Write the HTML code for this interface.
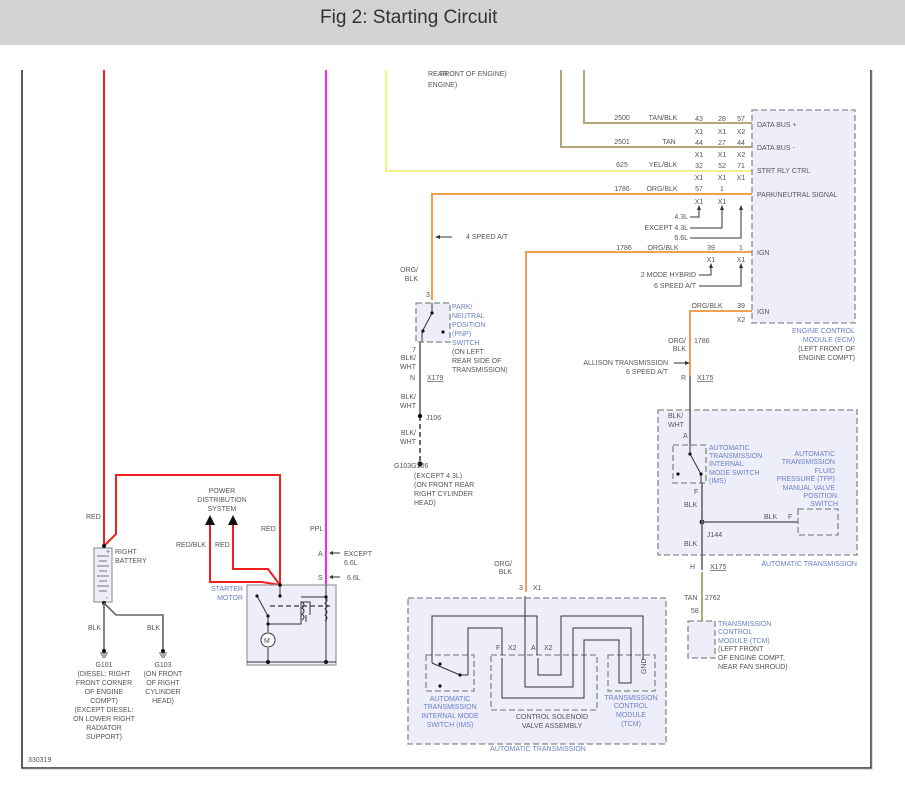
<!DOCTYPE html>
<html><head><meta charset="utf-8"><style>
html,body{margin:0;padding:0;background:#fff;}
svg{display:block;}
text{font-family:"Liberation Sans",sans-serif;font-size:7px;fill:#555;}
.b{fill:#6b7fc4;}
.t{font-size:19px;fill:#333;}
.w{fill:none;stroke:#666;stroke-width:1.6;}
.d{fill:#eeeefb;stroke:#888;stroke-width:1.3;stroke-dasharray:6,3;}
.o{fill:none;stroke:#f0a050;stroke-width:2;}
.tan{fill:none;stroke:#b5a67a;stroke-width:2;}
.r{fill:none;stroke:#f02020;stroke-width:2;}
.k{fill:none;stroke:#333;stroke-width:1;}
</style></head><body>
<svg width="905" height="803" viewBox="0 0 905 803" xmlns="http://www.w3.org/2000/svg">
<rect x="0" y="0" width="905" height="45" fill="#d3d3d3"/>
<text x="320" y="23" class="t">Fig 2: Starting Circuit</text>
<path d="M22,70 V768 H871 V70" fill="none" stroke="#333" stroke-width="1.6"/>
<path d="M23,769 H872 V70" fill="none" stroke="#bbb" stroke-width="1"/>

<path class="tan" d="M584,70 V123 H752"/>
<path class="tan" d="M561,70 V147 H752"/>
<path d="M386,70 V171 H752" fill="none" stroke="#eeee60" stroke-width="1.6"/>
<path class="o" d="M432,300 V194 H752"/>
<path class="o" d="M526,592 V252 H752"/>
<path class="o" d="M690,376 V311 H752"/>

<text x="428" y="76">REAR</text><text x="440" y="76">FRONT OF ENGINE)</text><text x="428" y="87">ENGINE)</text>

<rect class="d" x="752" y="110" width="103" height="213"/>
<g>
<text x="757" y="127">DATA BUS +</text><text x="757" y="150">DATA BUS -</text>
<text x="757" y="173">STRT RLY CTRL</text><text x="757" y="197">PARK/NEUTRAL SIGNAL</text>
<text x="757" y="255">IGN</text><text x="757" y="314">IGN</text>
</g>
<g text-anchor="end">
<text x="855" y="333" class="b">ENGINE CONTROL</text>
<text x="855" y="342" class="b">MODULE (ECM)</text>
<text x="855" y="351">(LEFT FRONT OF</text>
<text x="855" y="360">ENGINE COMPT)</text>
</g>
<g text-anchor="middle">
<text x="622" y="120">2500</text><text x="663" y="120">TAN/BLK</text><text x="699" y="121">43</text><text x="722" y="121">28</text><text x="741" y="121">57</text>
<text x="699" y="134">X1</text><text x="722" y="134">X1</text><text x="741" y="134">X2</text>
<text x="622" y="144">2501</text><text x="669" y="144">TAN</text><text x="699" y="145">44</text><text x="722" y="145">27</text><text x="741" y="145">44</text>
<text x="699" y="157">X1</text><text x="722" y="157">X1</text><text x="741" y="157">X2</text>
<text x="622" y="167">625</text><text x="663" y="167">YEL/BLK</text><text x="699" y="168">32</text><text x="722" y="168">52</text><text x="741" y="168">71</text>
<text x="699" y="180">X1</text><text x="722" y="180">X1</text><text x="741" y="180">X1</text>
<text x="622" y="191">1786</text><text x="662" y="191">ORG/BLK</text><text x="699" y="191">57</text><text x="722" y="191">1</text>
<text x="699" y="204">X1</text><text x="722" y="204">X1</text>
<text x="624" y="250">1786</text><text x="663" y="250">ORG/BLK</text><text x="711" y="250">39</text><text x="741" y="250">1</text>
<text x="711" y="262">X1</text><text x="741" y="262">X1</text>
<text x="707" y="308">ORG/BLK</text><text x="741" y="308">39</text><text x="741" y="322">X2</text>
</g>
<g class="k">
<path d="M690,217 H699 V208"/><path d="M690,228 H722 V208"/><path d="M690,238 H741 V208"/>
<path d="M699,275 H711 V266"/><path d="M699,286 H741 V266"/>
<path d="M452,237 H438"/><path d="M674,363 H686"/>
</g>
<g fill="#333">
<path d="M697,210 L699,205 L701,210Z"/><path d="M720,210 L722,205 L724,210Z"/><path d="M739,210 L741,205 L743,210Z"/>
<path d="M709,268 L711,263 L713,268Z"/><path d="M739,268 L741,263 L743,268Z"/>
<path d="M435,237 L440,235 L440,239Z"/><path d="M685,361 L690,363 L685,365Z"/>
</g>
<g text-anchor="end">
<text x="688" y="219">4.3L</text><text x="688" y="230">EXCEPT 4.3L</text><text x="688" y="240">6.6L</text>
<text x="696" y="277">2 MODE HYBRID</text><text x="696" y="288">6 SPEED A/T</text>
<text x="668" y="365">ALLISON TRANSMISSION</text><text x="668" y="374">6 SPEED A/T</text>
<text x="686" y="343">ORG/</text><text x="686" y="351">BLK</text>
<text x="686" y="380">R</text>
</g>
<text x="466" y="239">4 SPEED A/T</text>
<text x="694" y="343">1786</text>
<text x="697" y="380" style="text-decoration:underline">X175</text>

<text x="418" y="272" text-anchor="end">ORG/</text><text x="418" y="281" text-anchor="end">BLK</text>
<text x="426" y="297">3</text>
<rect class="d" x="416" y="303" width="34" height="39"/>
<path class="k" d="M432,303 V313 L422,332 V342"/>
<circle cx="432" cy="313" r="1.6" fill="#111"/><circle cx="423" cy="331" r="1.6" fill="#111"/><circle cx="443" cy="332" r="1.6" fill="#111"/>
<text x="452" y="309" class="b">PARK/</text><text x="452" y="318" class="b">NEUTRAL</text><text x="452" y="327" class="b">POSITION</text><text x="452" y="336" class="b">(PNP)</text><text x="452" y="345" class="b">SWITCH</text>
<text x="452" y="354">(ON LEFT</text><text x="452" y="363">REAR SIDE OF</text><text x="452" y="372">TRANSMISSION)</text>
<path class="w" d="M420,342 V416"/>
<path d="M420,416 V464" fill="none" stroke="#444" stroke-width="1.6" stroke-dasharray="5,3"/>
<circle cx="420" cy="416" r="2.2" fill="#111"/><circle cx="420" cy="464" r="2.6" fill="#111"/>
<g text-anchor="end"><text x="416" y="352">7</text><text x="416" y="360">BLK/</text><text x="416" y="369">WHT</text><text x="415" y="380">N</text>
<text x="416" y="399">BLK/</text><text x="416" y="408">WHT</text><text x="416" y="435">BLK/</text><text x="416" y="444">WHT</text></g>
<text x="427" y="380" style="text-decoration:underline">X179</text>
<text x="426" y="420">J106</text>
<text x="394" y="468">G103G106</text>
<text x="414" y="478">(EXCEPT 4.3L)</text><text x="414" y="487">(ON FRONT REAR</text><text x="414" y="496">RIGHT CYLINDER</text><text x="414" y="505">HEAD)</text>

<path class="r" d="M104,70 V546"/>
<path class="r" d="M104,546 L116,534 V475 H280 V585"/>
<path class="r" d="M210,523 V582 H262 L280,585"/>
<path class="r" d="M233,523 V569 H268 L280,585"/>
<path fill="#111" d="M205,525 L210,515 L215,525Z M228,525 L233,515 L238,525Z"/>
<text x="222" y="493" text-anchor="middle">POWER</text><text x="222" y="502" text-anchor="middle">DISTRIBUTION</text><text x="222" y="511" text-anchor="middle">SYSTEM</text>
<text x="86" y="519">RED</text><text x="176" y="547">RED/BLK</text><text x="215" y="547">RED</text><text x="261" y="531">RED</text>
<path d="M326,70 V585" fill="none" stroke="#ff20ff" stroke-width="2"/>
<text x="310" y="531">PPL</text><text x="318" y="556">A</text><text x="318" y="580">S</text>
<path class="k" d="M340,553 H330 M340,577 H330"/><path fill="#333" d="M333,551 L329,553 L333,555Z M333,575 L329,577 L333,579Z"/>
<text x="344" y="556">EXCEPT</text><text x="344" y="565">6.6L</text><text x="347" y="580">6.6L</text>

<rect x="94" y="548" width="18" height="54" fill="#eeeefb" stroke="#999" stroke-width="1.2"/>
<g stroke="#777"><path d="M97,556 H109 M99,561 H107 M97,566 H109 M99,571 H107 M97,576 H109 M99,581 H107 M97,586 H109 M99,591 H107"/></g>
<text x="106" y="554" font-size="6">+</text><text x="106" y="600" font-size="6">-</text>
<text x="115" y="554">RIGHT</text><text x="115" y="563">BATTERY</text>
<circle cx="104" cy="546" r="2" fill="#111"/><circle cx="104" cy="603" r="2" fill="#111"/>
<path class="w" d="M104,603 V650 M104,603 L116,615 H163 V650"/>
<text x="88" y="630">BLK</text><text x="147" y="630">BLK</text>
<g stroke="#555"><path d="M100,653 H108 M101,655 H107 M102,657 H106 M159,653 H167 M160,655 H166 M161,657 H165"/></g>
<circle cx="104" cy="651" r="2" fill="#111"/><circle cx="163" cy="651" r="2" fill="#111"/>
<g text-anchor="middle">
<text x="104" y="667">G101</text><text x="104" y="676">(DIESEL: RIGHT</text><text x="104" y="685">FRONT CORNER</text><text x="104" y="694">OF ENGINE</text><text x="104" y="703">COMPT)</text><text x="104" y="712">(EXCEPT DIESEL:</text><text x="104" y="721">ON LOWER RIGHT</text><text x="104" y="730">RADIATOR</text><text x="104" y="739">SUPPORT)</text>
<text x="163" y="667">G103</text><text x="163" y="676">(ON FRONT</text><text x="163" y="685">OF RIGHT</text><text x="163" y="694">CYLINDER</text><text x="163" y="703">HEAD)</text>
</g>
<text x="28" y="762">330319</text>

<rect x="247" y="585" width="89" height="80" fill="#eeeefb" stroke="#999" stroke-width="1.2"/>
<text x="243" y="591" text-anchor="end" class="b">STARTER</text><text x="243" y="600" text-anchor="end" class="b">MOTOR</text>
<g class="k" stroke-width="1.2">
<path d="M280,585 V596"/><path d="M257,596 L268,616 V624 H301 V602 H310 V615 M306,615 V622"/>
<path d="M326,585 V662"/><path d="M301,597 H326"/>
<path d="M268,624 V632"/><path d="M268,648 V662"/><path d="M247,662 H336"/>
</g>
<path d="M270,606 H330" stroke="#555" stroke-width="1.6" stroke-dasharray="5,3"/>
<path d="M302,602 q4,3 0,6 q4,3 0,6 q4,3 0,6" fill="none" stroke="#333"/>
<path d="M325,597 q4,3 0,6 q4,3 0,6 q4,3 0,6 q4,3 0,6" fill="none" stroke="#333"/>
<circle cx="268" cy="640" r="7" fill="#fff" stroke="#333"/><text x="264" y="643" font-size="9" fill="#c08020">M</text>
<g fill="#111"><circle cx="280" cy="585" r="1.8"/><circle cx="280" cy="596" r="1.6"/><circle cx="257" cy="596" r="1.6"/><circle cx="268" cy="616" r="1.6"/><circle cx="268" cy="624" r="1.6"/><circle cx="268" cy="662" r="2"/><circle cx="326" cy="662" r="2"/><circle cx="326" cy="597" r="1.6"/></g>

<rect class="d" x="658" y="410" width="199" height="145"/>
<path class="w" d="M690,376 V447"/>
<rect class="d" x="673" y="445" width="33" height="38"/>
<path class="k" d="M690,445 V454 L701,474 V483"/>
<g fill="#111"><circle cx="690" cy="454" r="1.6"/><circle cx="701" cy="474" r="1.6"/><circle cx="678" cy="474" r="1.6"/><circle cx="702" cy="522" r="2.4"/></g>
<path class="w" d="M702,483 V570 M702,522 H798"/>
<path class="tan" d="M702,572 V622"/>
<rect class="d" x="798" y="509" width="40" height="26"/>
<text x="668" y="418">BLK/</text><text x="668" y="427">WHT</text><text x="683" y="438">A</text>
<text x="709" y="450" class="b">AUTOMATIC</text><text x="709" y="458" class="b">TRANSMISSION</text><text x="709" y="466" class="b">INTERNAL</text><text x="709" y="475" class="b">MODE SWITCH</text><text x="709" y="483" class="b">(IMS)</text>
<g text-anchor="end"><text x="835" y="456" class="b">AUTOMATIC</text><text x="835" y="464" class="b">TRANSMISSION</text><text x="835" y="473" class="b">FLUID</text><text x="835" y="481" class="b">PRESSURE (TFP)</text><text x="835" y="490" class="b">MANUAL VALVE</text><text x="837" y="498" class="b">POSITION</text><text x="838" y="506" class="b">SWITCH</text></g>
<text x="694" y="494">F</text><text x="684" y="507">BLK</text><text x="764" y="519">BLK</text><text x="788" y="519">F</text>
<text x="707" y="537">J144</text><text x="684" y="546">BLK</text>
<text x="857" y="566" text-anchor="end" class="b">AUTOMATIC TRANSMISSION</text>
<text x="690" y="569">H</text><text x="710" y="569" style="text-decoration:underline">X175</text>
<text x="684" y="600">TAN</text><text x="705" y="600">2762</text><text x="691" y="613">58</text>
<rect class="d" x="688" y="621" width="27" height="37"/>
<text x="718" y="626" class="b">TRANSMISSION</text><text x="718" y="634" class="b">CONTROL</text><text x="718" y="643" class="b">MODULE (TCM)</text>
<text x="718" y="651">(LEFT FRONT</text><text x="718" y="660">OF ENGINE COMPT,</text><text x="718" y="669">NEAR FAN SHROUD)</text>

<text x="512" y="566" text-anchor="end">ORG/</text><text x="512" y="574" text-anchor="end">BLK</text>
<text x="519" y="590">3</text><text x="533" y="590">X1</text>
<rect class="d" x="408" y="598" width="258" height="146"/>
<rect class="d" x="426" y="655" width="48" height="36"/>
<rect class="d" x="491" y="655" width="106" height="55"/>
<rect class="d" x="608" y="655" width="47" height="36"/>
<g class="k" stroke-width="1.2">
<path d="M432,663 V616 H537 V655"/><path d="M538,658 V675 H561 V616 H643 V660"/>
<path d="M460,675 H468 V628 H502 V655"/><path d="M502,658 V698 H584 V640 H619 V683 H631 V628 H573 V687 H525 V596"/>
<path d="M432,663 L460,675"/>
</g>
<g fill="#111"><circle cx="440" cy="664" r="1.6"/><circle cx="460" cy="675" r="1.6"/><circle cx="440" cy="686" r="1.6"/></g>
<text x="496" y="650">F</text><text x="508" y="650">X2</text><text x="531" y="650">A</text><text x="544" y="650">X2</text>
<text x="646" y="674" transform="rotate(-90 646 674)">GND</text>
<g text-anchor="middle">
<text x="450" y="701" class="b">AUTOMATIC</text><text x="450" y="709" class="b">TRANSMISSION</text><text x="450" y="718" class="b">INTERNAL MODE</text><text x="450" y="727" class="b">SWITCH (IMS)</text>
<text x="631" y="700" class="b">TRANSMISSION</text><text x="631" y="708" class="b">CONTROL</text><text x="631" y="717" class="b">MODULE</text><text x="631" y="726" class="b">(TCM)</text>
<text x="538" y="751" class="b">AUTOMATIC TRANSMISSION</text>
</g>
<text x="552" y="719" text-anchor="middle">CONTROL SOLENOID</text><text x="552" y="728" text-anchor="middle">VALVE ASSEMBLY</text>
</svg>
</body></html>
